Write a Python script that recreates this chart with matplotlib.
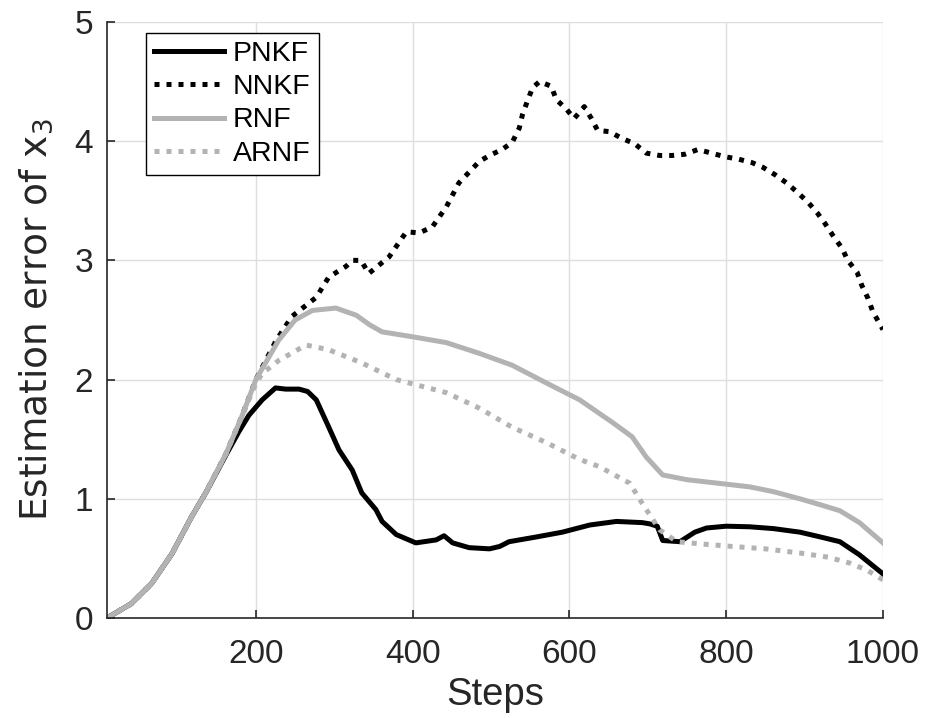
import numpy as np
import matplotlib.pyplot as plt

plt.rcParams['font.family'] = ['Liberation Sans', 'DejaVu Sans']

# values (step, error)
pnkf_x = [10, 41, 67, 93, 118, 136, 162, 178, 191, 208, 225, 238, 255, 266, 277, 293, 306, 323, 335, 353, 361,
          379, 404, 430, 440, 451, 472, 498, 511, 523, 558, 591, 626, 660, 693, 702, 712, 719, 741, 760, 775, 800,
          830, 860, 894, 920, 945, 970, 1000]
pnkf_y = [0.0, 0.12, 0.29, 0.54, 0.85, 1.05, 1.37, 1.56, 1.70, 1.83, 1.93, 1.92, 1.92, 1.90, 1.83, 1.60, 1.41,
          1.24, 1.05, 0.91, 0.81, 0.70, 0.63, 0.655, 0.69, 0.63, 0.59, 0.58, 0.60, 0.64, 0.68, 0.72, 0.78, 0.81,
          0.80, 0.79, 0.77, 0.65, 0.64, 0.72, 0.755, 0.77, 0.765, 0.75, 0.72, 0.68, 0.64, 0.53, 0.37]

nnkf_x = [10, 41, 67, 93, 118, 136, 162, 182, 200, 226, 246, 277, 293, 315, 323, 334, 344, 370, 392, 408, 425,
          443, 459, 485, 498, 514, 527, 536, 540, 546, 553, 562, 577, 583, 596, 606, 619, 628, 636, 651, 668,
          683, 698, 715, 731, 747, 764, 781, 798, 815, 833, 847, 862, 877, 891, 904, 916, 926, 936, 948, 955,
          967, 973, 981, 987, 1000]
nnkf_y = [0.0, 0.12, 0.29, 0.54, 0.85, 1.05, 1.38, 1.69, 2.0, 2.33, 2.53, 2.69, 2.86, 2.95, 3.0, 3.0, 2.89,
          3.03, 3.24, 3.23, 3.28, 3.45, 3.65, 3.83, 3.88, 3.93, 3.99, 4.11, 4.22, 4.33, 4.45, 4.50, 4.46, 4.35,
          4.27, 4.19, 4.29, 4.19, 4.09, 4.08, 4.02, 3.98, 3.90, 3.88, 3.88, 3.89, 3.93, 3.90, 3.87, 3.85, 3.82,
          3.78, 3.72, 3.65, 3.57, 3.49, 3.40, 3.31, 3.21, 3.10, 3.00, 2.90, 2.79, 2.68, 2.57, 2.42]

rnf_x = [10, 41, 67, 93, 118, 136, 162, 182, 200, 229, 250, 272, 302, 328, 345, 361, 399, 443, 485, 527, 571,
         613, 655, 680, 698, 719, 750, 790, 830, 860, 894, 920, 945, 970, 1000]
rnf_y = [0.0, 0.12, 0.29, 0.54, 0.85, 1.05, 1.38, 1.69, 2.0, 2.33, 2.50, 2.58, 2.60, 2.54, 2.46, 2.40, 2.36,
         2.31, 2.22, 2.12, 1.97, 1.83, 1.64, 1.52, 1.35, 1.20, 1.16, 1.13, 1.10, 1.06, 1.00, 0.95, 0.90, 0.80,
         0.63]

arnf_x = [10, 41, 67, 93, 118, 136, 162, 182, 200, 208, 229, 264, 293, 335, 379, 443, 485, 527, 571, 613, 638,
          677, 693, 715, 737, 770, 808, 850, 894, 930, 958, 980, 1000]
arnf_y = [0.0, 0.12, 0.29, 0.54, 0.85, 1.05, 1.38, 1.69, 1.97, 2.05, 2.16, 2.29, 2.25, 2.14, 2.00, 1.89, 1.76,
          1.60, 1.47, 1.33, 1.27, 1.13, 0.96, 0.74, 0.64, 0.62, 0.60, 0.58, 0.545, 0.51, 0.46, 0.40, 0.32]

gray = '#b3b3b3'

fig = plt.figure(figsize=(9.27, 7.18), dpi=100)
ax = fig.add_axes([0.1154, 0.1393, 0.8371, 0.8301])

ax.plot(pnkf_x, pnkf_y, color='black', lw=3.6, label='PNKF')
ax.plot(nnkf_x, nnkf_y, color='black', lw=3.6, linestyle=(0, (1.0, 1.4)), label='NNKF')
ax.plot(rnf_x, rnf_y, color=gray, lw=3.6, label='RNF')
ax.plot(arnf_x, arnf_y, color=gray, lw=3.6, linestyle=(0, (1.0, 1.4)), label='ARNF')

ax.set_xlim(10, 1000)
ax.set_ylim(0, 5)
ax.set_xticks([200, 400, 600, 800, 1000])
ax.set_yticks([0, 1, 2, 3, 4, 5])
ax.grid(True, color='#dedede', lw=1)
ax.set_axisbelow(True)
for s in ['top', 'right']:
    ax.spines[s].set_visible(False)
for s in ['left', 'bottom']:
    ax.spines[s].set_color('#262626')
    ax.spines[s].set_linewidth(1.2)
ax.tick_params(direction='in', length=6, width=1.2, colors='#262626', labelsize=24)
ax.tick_params(axis='x', pad=15)
ax.tick_params(axis='y', pad=10)

ax.set_xlabel('Steps', fontsize=27.5, color='#262626', labelpad=5)
ax.set_ylabel(r'Estimation error of $\mathregular{x_3}$', fontsize=27, color='#262626', labelpad=14,
              family='DejaVu Sans')

leg = ax.legend(loc='upper left', bbox_to_anchor=(0.05, 0.982), fontsize=20.5, frameon=True, fancybox=False,
                edgecolor='black', framealpha=1, handlelength=2.45, handletextpad=0.3, labelspacing=0.25,
                borderpad=0.3, borderaxespad=0)
leg.get_frame().set_linewidth(1.0)

plt.savefig('out.png', dpi=100)
